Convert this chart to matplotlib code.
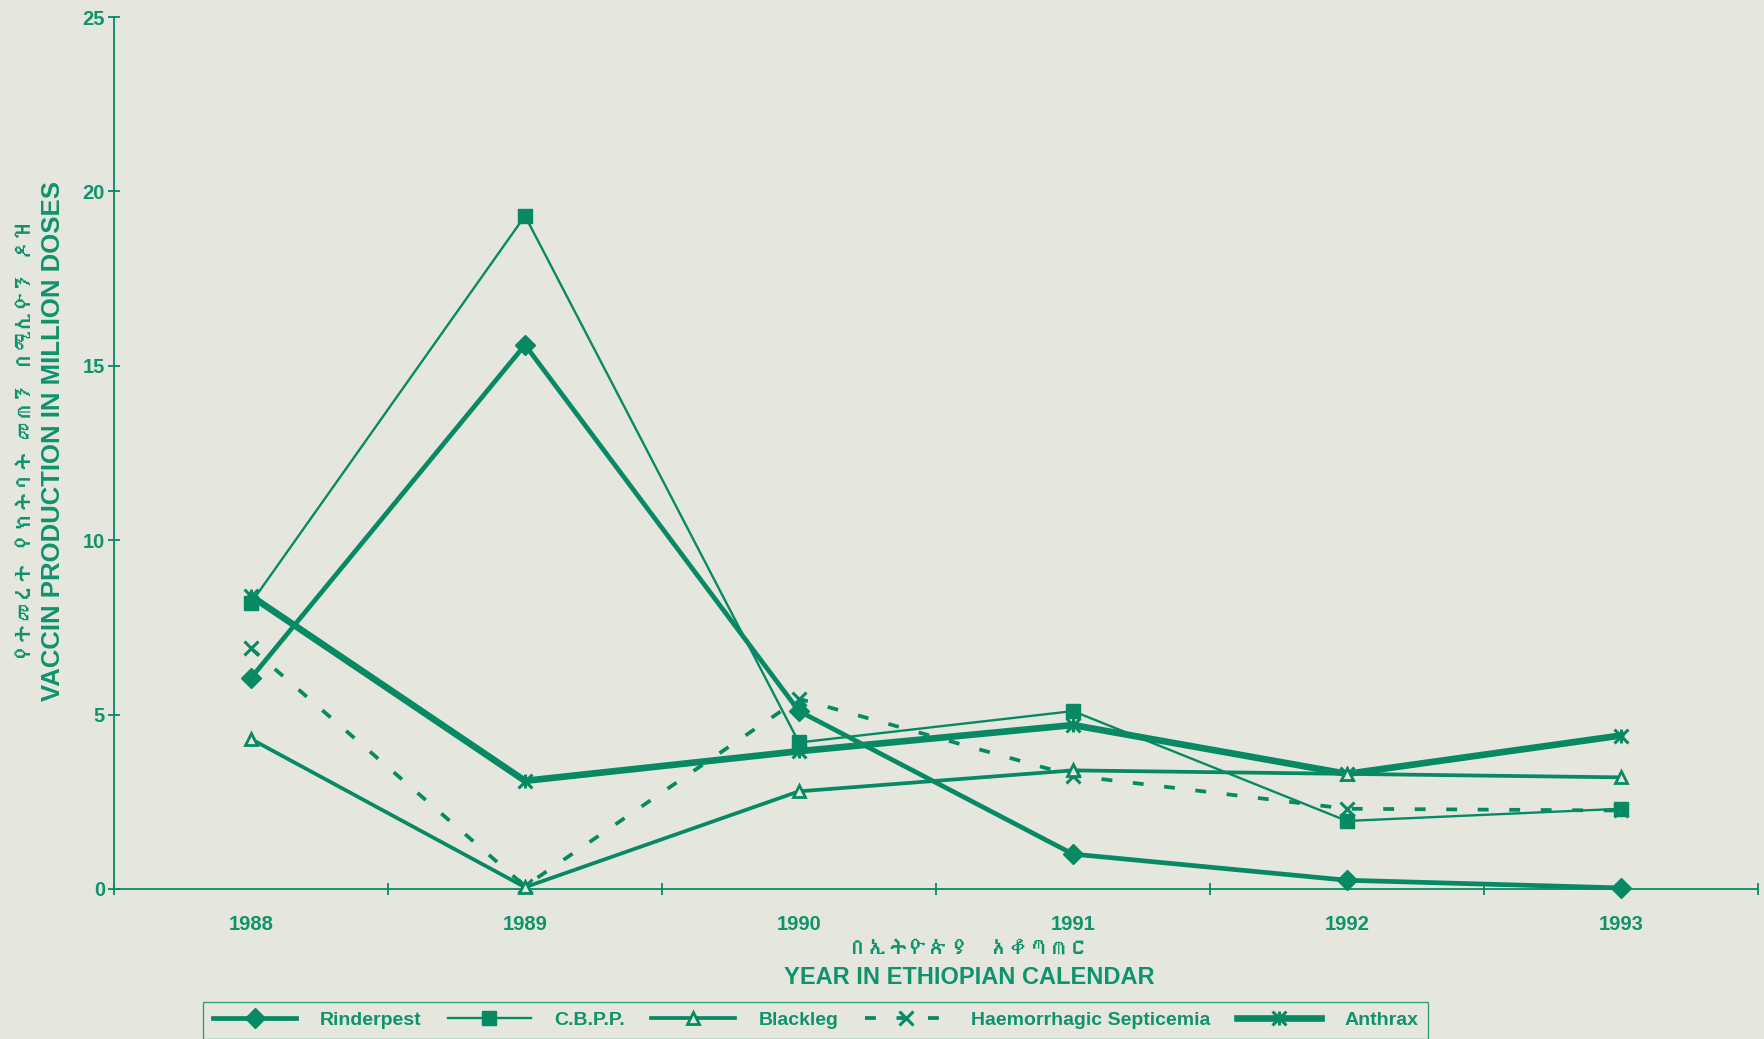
import numpy as np
import matplotlib
matplotlib.use('Agg')
import matplotlib.pyplot as plt
from matplotlib.path import Path
from matplotlib import font_manager
from matplotlib.ft2font import FT2Font

years = ['1988', '1989', '1990', '1991', '1992', '1993']
rinderpest = [6.05, 15.6, 5.1, 1.0, 0.25, 0.03]
cbpp = [8.2, 19.3, 4.2, 5.1, 1.95, 2.3]
blackleg = [4.3, 0.05, 2.8, 3.4, 3.3, 3.2]
haem_sept = [6.9, 0.08, 5.45, 3.25, 2.3, 2.25]
anthrax = [8.4, 3.1, 3.95, 4.7, 3.3, 4.4]

y_ticks = [0, 5, 10, 15, 20, 25]

green = '#078a64'
txt = '#0f936c'
bg = '#e5e7de'


def find_font(codepoint):
    # look for any installed font that has the glyph
    for f in font_manager.fontManager.ttflist:
        try:
            if codepoint in FT2Font(f.fname).get_charmap():
                return f.name
        except Exception:
            pass
    return None


eth = find_font(0x1260)
lat = 'Liberation Sans'
fam = [lat] if eth is None else [eth, lat]

plt.rcParams['font.family'] = [lat, 'DejaVu Sans']

# x with a vertical bar, like the old spreadsheet "star" marker
star = Path([(-1, -1), (1, 1), (-1, 1), (1, -1), (0, -1), (0, 1)],
            [Path.MOVETO, Path.LINETO, Path.MOVETO, Path.LINETO, Path.MOVETO, Path.LINETO])

fig = plt.figure(figsize=(17.65, 10.39), dpi=100, facecolor=bg)
ax = fig.add_axes([0.0646, 0.1444, 0.9314, 0.8392])
ax.set_facecolor(bg)

x = np.arange(len(years))
ax.plot(x, rinderpest, color=green, lw=3.4, marker='D', ms=10, mec=green, mfc=green,
        label='Rinderpest', clip_on=False, zorder=5)
ax.plot(x, cbpp, color=green, lw=1.7, marker='s', ms=10, mec=green, mfc=green,
        label='C.B.P.P.', clip_on=False, zorder=4)
ax.plot(x, blackleg, color=green, lw=2.7, marker='^', ms=9, mec=green, mfc=bg, mew=2,
        label='Blackleg', clip_on=False, zorder=6)
ax.plot(x, haem_sept, color=green, lw=2.7, dashes=(2.9, 5.5), marker='x', ms=10, mew=2.2,
        mec=green, label='Haemorrhagic Septicemia', clip_on=False, zorder=3)
ax.plot(x, anthrax, color=green, lw=4.8, marker=star, ms=10, mew=2.2, mec=green,
        label='Anthrax', clip_on=False, zorder=4)

ax.set_xlim(-0.5, 5.5)
ax.set_ylim(0, 25)
for s in ['top', 'right']:
    ax.spines[s].set_visible(False)
for s in ['left', 'bottom']:
    ax.spines[s].set_color(green)
    ax.spines[s].set_linewidth(1.3)

ax.set_xticks(x)
ax.set_xticklabels(years)
ax.set_xticks(np.arange(-0.5, 5.6, 1), minor=True)
ax.tick_params(axis='x', which='major', length=0, pad=19, labelsize=14.5, labelcolor=txt)
ax.tick_params(axis='x', which='minor', direction='inout', length=9, width=1.3, color=green)
ax.set_yticks(y_ticks)
ax.tick_params(axis='y', direction='inout', length=9, width=1.3, color=green, pad=2,
               labelsize=14.5, labelcolor=txt)
for lab in ax.get_xticklabels() + ax.get_yticklabels():
    lab.set_fontweight('bold')

fig.text(25 / 1765, 1 - 441 / 1039, 'የተመረተ የክትባት መጠን በሚሊዮን ዶዝ', rotation=90,
         ha='center', va='center', fontsize=14.5, color=txt, fontweight='bold', family=fam)
fig.text(53 / 1765, 1 - 441 / 1039, 'VACCIN PRODUCTION IN MILLION DOSES', rotation=90,
         ha='center', va='center', fontsize=18.5, color=txt, fontweight='bold')
fig.text(969 / 1765, 1 - 948 / 1039, 'በኢትዮጵያ  አቆጣጠር', ha='center', va='center',
         fontsize=14.5, color=txt, fontweight='bold', family=fam)
fig.text(969 / 1765, 1 - 977 / 1039, 'YEAR IN ETHIOPIAN CALENDAR', ha='center', va='center',
         fontsize=17, color=txt, fontweight='bold')

leg = fig.legend(loc='lower left', bbox_to_anchor=(203 / 1765, 0.0), ncol=5,
                 frameon=True, fancybox=False, edgecolor=green, facecolor=bg,
                 handlelength=4.3, handletextpad=1.2, columnspacing=1.35, borderpad=0.5,
                 borderaxespad=0.0, prop={'size': 14, 'weight': 'bold'})
leg.get_frame().set_linewidth(1.0)
for t in leg.get_texts():
    t.set_color(txt)

fig.savefig('out.png', dpi=100, facecolor=bg)
